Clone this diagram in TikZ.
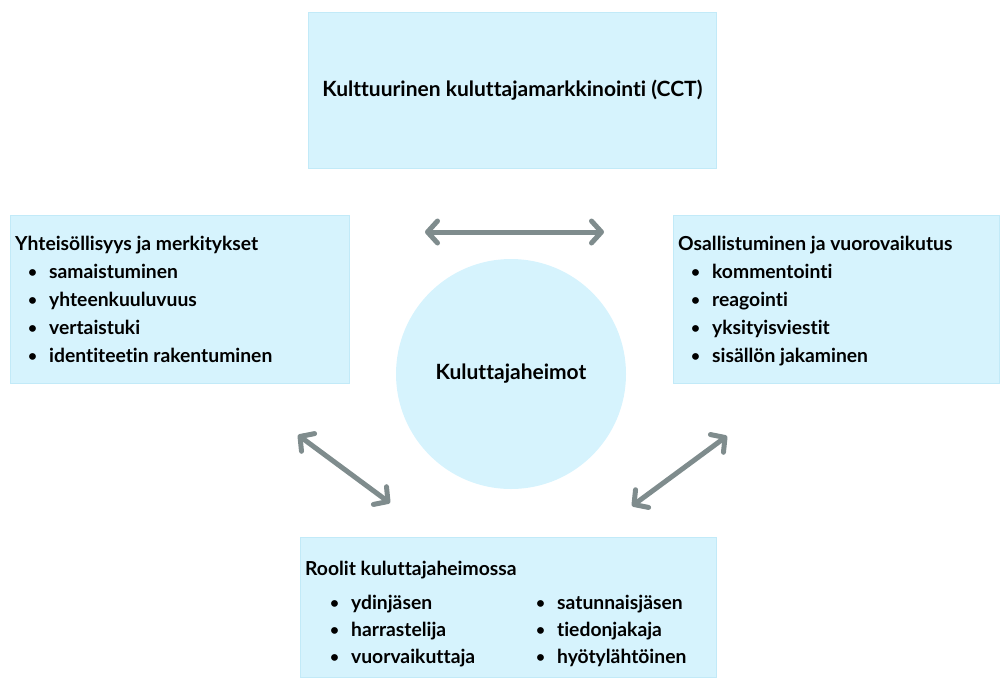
\documentclass[tikz,border=0pt]{standalone}
\usepackage{fontspec}
\setmainfont{Lato}[Ligatures=NoCommon]
\usepackage{tikz}
\usetikzlibrary{positioning,arrows.meta}
\definecolor{heimofill}{HTML}{D6F3FD}
\definecolor{heimoline}{HTML}{C2EAF8}
\definecolor{heimoarrow}{HTML}{7F8C8D}
\newcommand{\heimobullet}{\raisebox{1pt}{\scalebox{0.8}{\textbullet}}\hspace{12pt}}

\begin{document}
\begin{tikzpicture}[x=1pt,y=-1pt,font=\fontsize{19.3}{28}\selectfont\bfseries]
 \tikzset{box/.style={draw=heimoline,fill=heimofill,line width=0.8pt,anchor=north west,inner sep=0pt},
  item/.style={anchor=base west,inner sep=0pt},
  big/.style={font=\fontsize{21}{28}\selectfont\bfseries},
  arrow/.style={heimoarrow,line width=5pt,line cap=round,
   {Straight Barb[length=10pt,width=22pt,round]}-{Straight Barb[length=10pt,width=22pt,round]}}}
 \useasboundingbox (0,0) rectangle (1000,677);
 \node[box,minimum width=408pt,minimum height=156pt] (cct) at (308,12) {};
 \node[box,minimum width=339pt,minimum height=168pt] (yht) at (10,215) {};
 \node[box,minimum width=326pt,minimum height=168pt] (osa) at (673,215) {};
 \node[box,minimum width=416pt,minimum height=140pt] (roo) at (300,537) {};
 \node[circle,fill=heimofill,minimum size=230pt,inner sep=0pt] (heimo) at (511,374) {};

 \node[big] (cctT) at (cct.center) {Kulttuurinen kuluttajamarkkinointi (CCT)};
 \node[big] (heimoT) at (heimo.center) {Kuluttajaheimot};

 \node[item] (yhtT) at (15,250) {Yhteisöllisyys ja merkitykset};
 \foreach \t [count=\i] in {samaistuminen,yhteenkuuluvuus,vertaistuki,identiteetin rakentuminen}
  \node[item] (yht\i) at (28,250+28*\i) {\heimobullet\t};

 \node[item] (osaT) at (678,250) {Osallistuminen ja vuorovaikutus};
 \foreach \t [count=\i] in {kommentointi,reagointi,yksityisviestit,sisällön jakaminen}
  \node[item] (osa\i) at (691,250+28*\i) {\heimobullet\t};

 \node[item] (rooT) at (305,575) {Roolit kuluttajaheimossa};
 \foreach \t [count=\i] in {ydinjäsen,harrastelija,vuorvaikuttaja}
  \node[item] (rooA\i) at (330,582+27*\i) {\heimobullet\t};
 \foreach \t [count=\i] in {satunnaisjäsen,tiedonjakaja,hyötylähtöinen}
  \node[item] (rooB\i) at (536,582+27*\i) {\heimobullet\t};

 \coordinate (a1) at (425,232); \coordinate (a2) at (604,232);
 \coordinate (b1) at (298,435); \coordinate (b2) at (390,503);
 \coordinate (c1) at (727,436); \coordinate (c2) at (632,506);
 \draw[arrow] (a1) -- (a2);
 \draw[arrow] (b1) -- (b2);
 \draw[arrow] (c1) -- (c2);
\end{tikzpicture}
\end{document}
